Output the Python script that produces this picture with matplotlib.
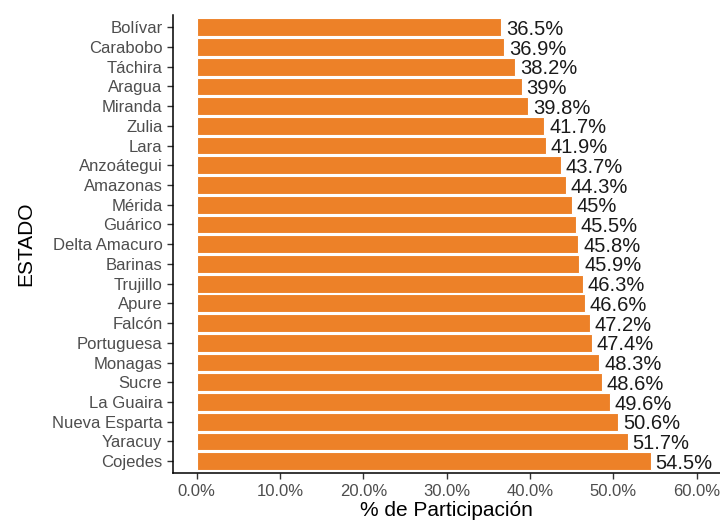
import matplotlib.pyplot as plt
from matplotlib.ticker import FuncFormatter

estados = ["Bolívar", "Carabobo", "Táchira", "Aragua", "Miranda", "Zulia", "Lara",
           "Anzoátegui", "Amazonas", "Mérida", "Guárico", "Delta Amacuro", "Barinas",
           "Trujillo", "Apure", "Falcón", "Portuguesa", "Monagas", "Sucre", "La Guaira",
           "Nueva Esparta", "Yaracuy", "Cojedes"]
participacion = [36.5, 36.9, 38.2, 39.0, 39.8, 41.7, 41.9, 43.7, 44.3, 45.0, 45.5, 45.8,
                 45.9, 46.3, 46.6, 47.2, 47.4, 48.3, 48.6, 49.6, 50.6, 51.7, 54.5]
etiquetas = ["36.5%", "36.9%", "38.2%", "39%", "39.8%", "41.7%", "41.9%", "43.7%", "44.3%",
             "45%", "45.5%", "45.8%", "45.9%", "46.3%", "46.6%", "47.2%", "47.4%", "48.3%",
             "48.6%", "49.6%", "50.6%", "51.7%", "54.5%"]

plt.rcParams['font.family'] = ['Liberation Sans', 'DejaVu Sans']

fig = plt.figure(figsize=(7.2, 5.23), dpi=100)
ax = fig.add_axes([0.240, 0.0956, 0.760, 0.875])

pos = list(range(len(estados)))
ax.barh(pos, participacion, height=0.9, color='#ED8128', edgecolor='white', linewidth=0.8)

# etiquetas de porcentaje al final de cada barra
for y, v, t in zip(pos, participacion, etiquetas):
    ax.annotate(t, (v, y), xytext=(3.5, -1.5), textcoords='offset points',
                va='center', ha='left', fontsize=14.5, color='#1a1a1a')

ax.set_yticks(pos)
ax.set_yticklabels(estados)
ax.set_ylim(len(estados) - 0.4, -0.6)
ax.set_xlim(-2.88, 62.8)
ax.set_xticks([0, 10, 20, 30, 40, 50, 60])
ax.xaxis.set_major_formatter(FuncFormatter(lambda x, p: f"{x:.1f}%"))

ax.tick_params(axis='both', labelsize=12, labelcolor='#4D4D4D', color='#333333',
               length=4, width=1)
ax.tick_params(axis='x', pad=4)
ax.spines['top'].set_visible(False)
ax.spines['right'].set_visible(False)
ax.spines['left'].set_linewidth(1.1)
ax.spines['bottom'].set_linewidth(1.1)

ax.set_xlabel("% de Participación", fontsize=15, labelpad=1)
ax.set_ylabel("ESTADO", fontsize=15, labelpad=12)

plt.savefig("out.png", dpi=100)
